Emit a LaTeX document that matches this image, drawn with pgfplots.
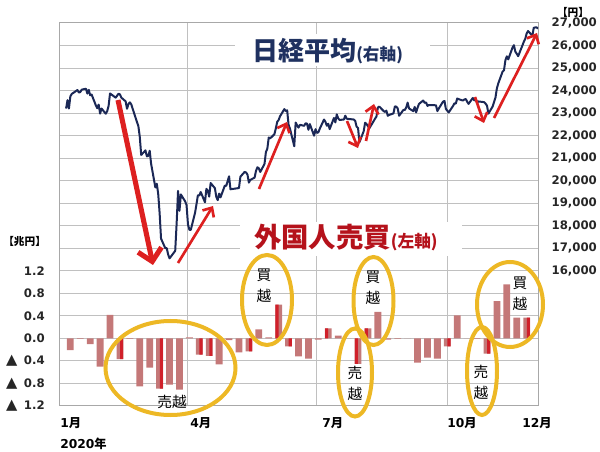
\documentclass[border=0pt]{standalone}
\usepackage{pgfplots}
\pgfplotsset{compat=1.18}
\usepackage{pgfplotstable}
\usepackage{fontspec}
\setmainfont{DejaVu Sans}
\newfontfamily\jp{Noto Sans CJK JP}
\usetikzlibrary{arrows.meta}
\definecolor{navy}{HTML}{1B2856}
\definecolor{ttlblue}{HTML}{1F3160}
\definecolor{ttlred}{HTML}{B5121B}
\definecolor{barpink}{HTML}{C47878}
\definecolor{barred}{HTML}{D0202A}
\definecolor{gridgray}{HTML}{C0C0C0}
\definecolor{framegray}{HTML}{A8A8A8}
\definecolor{ring}{HTML}{EDB825}
\definecolor{arrred}{HTML}{DD2020}

% Nikkei 225 close, day of year (1 Jan = 0)
\pgfplotstableread{
d v
5 23204
6 23575
7 23204
8 23740
9 23850
13 24025
14 23916
15 23933
16 24041
19 24083
20 23865
21 24031
22 23795
23 23827
26 23344
27 23216
28 23379
29 22977
30 23205
33 22972
34 23085
35 23320
36 23873
37 23828
40 23686
42 23861
43 23828
44 23688
47 23523
48 23194
49 23400
50 23479
51 23387
55 22606
56 22426
57 21948
58 21143
61 21345
62 21083
63 21100
64 21330
65 20750
68 19699
69 19867
70 19416
71 18560
72 17431
75 17002
76 17012
77 16727
78 16553
82 16888
83 18092
84 19547
85 18665
86 19389
89 19084
90 18917
91 18065
92 17819
93 17820
96 18576
97 18950
98 19353
99 19345
100 19499
103 19043
104 19639
105 19550
106 19291
107 19897
110 19669
111 19281
112 19137
113 19429
114 19262
117 19783
118 19771
120 20194
121 19619
127 19675
128 20179
131 20390
132 20367
133 20267
134 19915
135 20037
138 20134
139 20433
140 20595
141 20552
142 20388
145 20742
146 21271
147 21419
148 21917
149 21878
152 22062
153 22326
154 22614
155 22696
156 22864
159 23178
160 23091
161 23125
162 22473
163 22305
166 21531
167 22583
168 22456
169 22355
170 22479
173 22437
174 22549
175 22535
176 22260
177 22512
180 21996
181 22288
182 22122
183 22146
184 22306
187 22714
188 22614
189 22439
190 22529
191 22291
194 22785
195 22587
196 22945
197 22770
198 22696
201 22717
202 22885
203 22751
208 22716
209 22657
210 22397
211 22340
212 21710
215 22196
216 22574
217 22515
218 22418
219 22330
223 22750
224 22844
225 23250
226 23290
229 23097
230 23051
231 23111
232 22880
233 22921
236 22985
237 23297
238 23290
239 23209
240 22883
243 23140
244 23139
245 23248
246 23466
247 23206
250 23089
251 23274
252 23033
253 23235
254 23406
257 23560
258 23455
259 23475
260 23320
261 23360
266 23347
267 23088
268 23205
271 23512
272 23540
273 23185
275 23030
278 23312
279 23434
280 23423
281 23648
282 23620
285 23559
286 23601
287 23627
288 23508
289 23411
292 23672
293 23568
294 23640
295 23475
296 23517
299 23495
300 23486
301 23419
302 23332
303 22977
306 23295
308 23695
309 24105
310 24325
313 24840
314 24905
315 25350
316 25520
317 25385
320 25907
321 26015
322 25728
323 25634
324 25527
328 26165
329 26297
330 26537
331 26645
334 26434
335 26788
336 26801
337 26809
338 26751
}\nikkei

% weekly net buying by foreign investors (trillion yen)
\pgfplotstableread{
d v
8 -0.21
15 -0.01
22 -0.10
29 -0.50
36 0.42
43 -0.37
50 -0.01
57 -0.85
64 -0.52
71 -0.89
78 -0.82
85 -0.91
92 0.02
99 -0.29
106 -0.31
113 -0.46
120 -0.03
127 -0.25
134 -0.23
141 0.16
148 0.02
155 0.60
162 -0.14
169 -0.32
176 -0.36
183 -0.02
190 0.18
197 0.05
204 0.00
211 -0.45
218 0.18
225 0.47
232 -0.02
239 -0.01
246 0.00
253 -0.43
260 -0.34
267 -0.36
274 -0.14
281 0.41
288 0.00
295 -0.01
302 -0.27
309 0.66
316 0.96
323 0.37
330 0.37
}\flows

\pgfplotstableread{
d v
43 -0.37
71 -0.89
99 -0.29
106 -0.31
134 -0.23
162 -0.14
274 -0.14
302 -0.27
330 0.37
}\redright

\pgfplotstableread{
d v
155 0.60
190 0.18
211 -0.45
218 0.18
}\redleft

\newcommand\tri{\llap{{\fontsize{11}{11}\selectfont ▲}\hspace{5pt}}}

\begin{document}
\begin{tikzpicture}
\path[use as bounding box] (0,0) rectangle (450pt,-339pt);

\begin{axis}[
  name=ax,
  at={(44.25pt,-17.25pt)}, anchor=north west,
  scale only axis, width=359.25pt, height=287.25pt,
  xmin=0, xmax=338,
  ymin=-1.2, ymax=5.6,
  axis line style={draw=framegray, line width=0.75pt},
  xtick={0,91,182,274,338},
  xticklabel=\empty,
  xmajorgrids, ymajorgrids,
  major grid style={draw=gridgray, line width=0.75pt},
  major tick length=0pt,
  ytick={-1.2,-0.8,-0.4,0,0.4,0.8,1.2,1.6,2,2.4,2.8,3.2,3.6,4,4.4,4.8,5.2,5.6},
  yticklabels={\tri1.2,\tri0.8,\tri0.4,0.0,0.4,0.8,1.2,,,,,,,,,,,},
  yticklabel style={font=\bfseries\fontsize{8.8}{10}\selectfont,
    anchor=east, inner sep=0pt, xshift=-10.5pt, text=black!85},
]
  \addplot[ybar, bar width=4.8, fill=barpink, draw=none] table {\flows};
  \addplot[ybar, bar width=2.2, bar shift=1.2, fill=barred, draw=none] table {\redright};
  \addplot[ybar, bar width=2.2, bar shift=-1.2, fill=barred, draw=none] table {\redleft};
\end{axis}

\begin{axis}[
  at={(44.25pt,-17.25pt)}, anchor=north west,
  scale only axis, width=359.25pt, height=287.25pt,
  xmin=0, xmax=338,
  ymin=10000, ymax=27000,
  axis x line=none,
  axis y line*=right,
  axis line style={draw=framegray, line width=0.75pt},
  major tick length=0pt,
  ytick={16000,17000,...,27000},
  scaled y ticks=false,
  yticklabel style={font=\bfseries\fontsize{8.8}{10}\selectfont,
    anchor=west, inner sep=0pt, xshift=10pt, text=black!85,
    /pgf/number format/fixed, /pgf/number format/1000 sep={,},
    /pgf/number format/assume math mode=true},
]
  \addplot[navy, line width=1.5pt, line join=round] table {\nikkei};
\end{axis}

\begin{scope}[x=0.75pt, y=-0.75pt]
  % title boxes over the grid
  \fill[white] (235,34) rectangle (430,66);
  \fill[white] (240,222) rectangle (462,256);
  \node[anchor=base west, inner sep=0pt, text=ttlblue] at (252,61)
    {\jp\bfseries\fontsize{19.5}{20}\selectfont 日経平均\fontsize{12.5}{13}\selectfont(右軸)};
  \node[anchor=base west, inner sep=0pt, text=ttlred] at (254,248)
    {\jp\bfseries\fontsize{20.5}{21}\selectfont 外国人売買\fontsize{12.5}{13}\selectfont(左軸)};

  % unit labels
  \node[anchor=west, inner sep=0pt] at (3,241) {\jp\bfseries\fontsize{8}{9}\selectfont 【兆円】};
  \node[inner sep=0pt] at (573,12) {\jp\bfseries\fontsize{8}{9}\selectfont 【円】};

  % month labels
  \begin{scope}[every node/.style={anchor=west, inner sep=0pt, font=\bfseries\fontsize{9.2}{10}\selectfont}]
    \node at (60,423) {1{\jp 月}};
    \node at (190,423) {4{\jp 月}};
    \node at (322,423) {7{\jp 月}};
    \node at (447,423) {10{\jp 月}};
    \node at (522,423) {12{\jp 月}};
    \node at (60,444) {2020{\jp 年}};
  \end{scope}

  % arrows
  \draw[arrred, line width=3.8pt, -{Straight Barb[length=9pt, width=18pt]}] (118,100) -- (153,265);
  \begin{scope}[arrred, line width=2pt, -{Straight Barb[length=5.5pt, width=10pt]}]
    \draw (178,263) -- (213,206);
    \draw (259,189) -- (287,122);
    \draw (347,121) -- (358,148);
    \draw (366,141) -- (374,104);
    \draw (475,97) -- (484,123);
    \draw (494,118) -- (537,33);
  \end{scope}

  % rings
  \begin{scope}[ring, line width=3pt]
    \draw (170.5,368) ellipse [x radius=65, y radius=47];
    \draw (267,300) ellipse [x radius=25, y radius=45];
    \draw (373.5,301) ellipse [x radius=20, y radius=44];
    \draw (355,372.5) ellipse [x radius=17, y radius=44];
    \draw (482,371) ellipse [x radius=15, y radius=44];
    \draw (510,304.5) ellipse [x radius=33, y radius=42.5];
  \end{scope}

  % ring labels
  \begin{scope}[every node/.style={inner sep=0pt, font=\jp\fontsize{11}{12}\selectfont}]
    \node at (172,402) {売越};
    \node at (264,275) {買}; \node at (264,296) {越};
    \node at (373,277) {買}; \node at (373,298) {越};
    \node at (355,373) {売}; \node at (355,394) {越};
    \node at (481,372) {売}; \node at (481,393) {越};
    \node at (520,283) {買}; \node at (520,304) {越};
  \end{scope}
\end{scope}
\end{tikzpicture}
\end{document}
